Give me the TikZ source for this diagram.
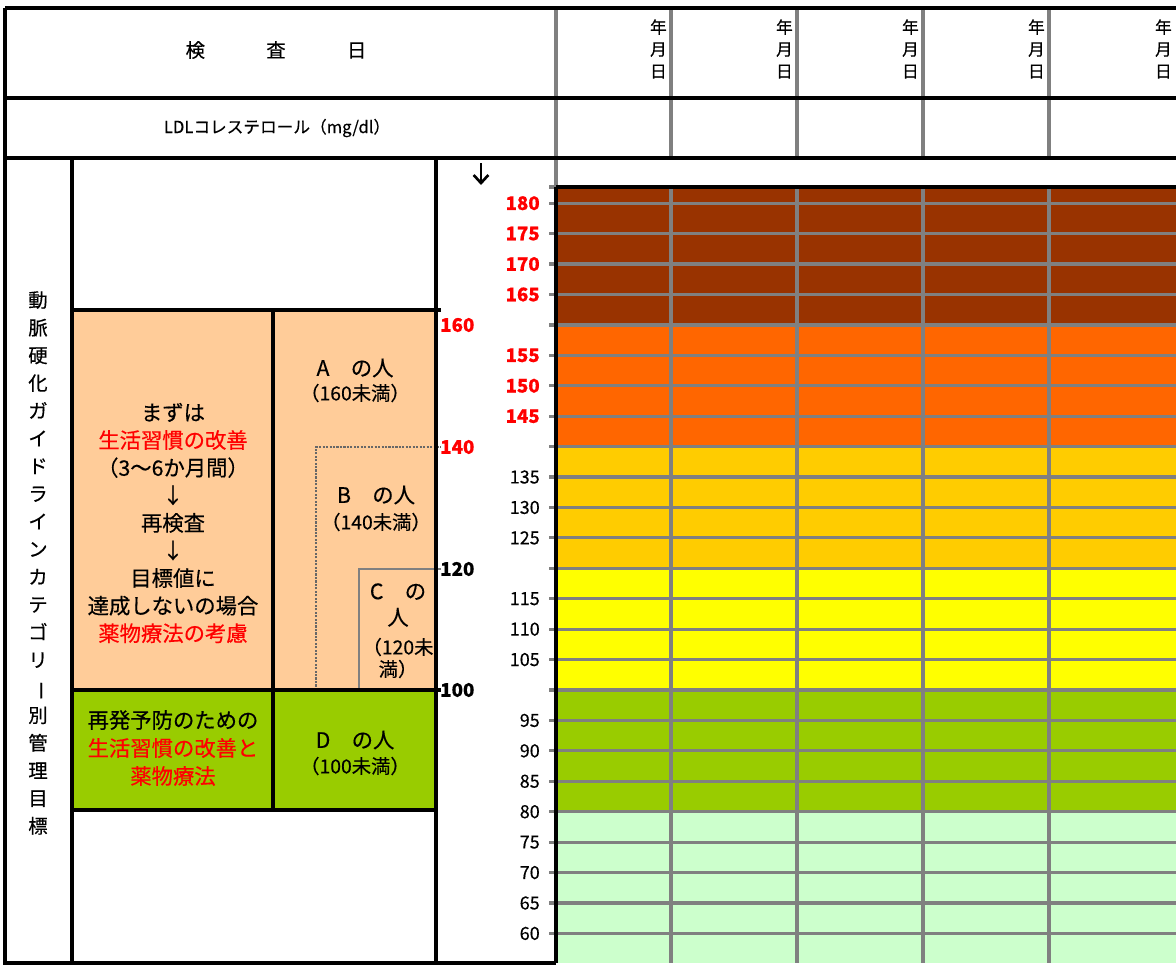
\documentclass[tikz,border=0pt]{standalone}
\usepackage{fontspec}
\setmainfont{Noto Sans CJK JP}[FakeBold=0.4]
\usetikzlibrary{arrows.meta}
\definecolor{cBrown}{HTML}{993300}
\definecolor{cOrange}{HTML}{FF6600}
\definecolor{cAmber}{HTML}{FFCC00}
\definecolor{cYellow}{HTML}{FFFF00}
\definecolor{cGreen}{HTML}{99CC00}
\definecolor{cMint}{HTML}{CCFFCC}
\definecolor{cPeach}{HTML}{FFCC99}
\definecolor{cGray}{HTML}{808080}
\tikzset{
    frameline/.style={line width=2.4pt},
    gridline/.style={draw=cGray,line width=2.4pt},
    body/.style={align=center,inner sep=0pt,font=\fontsize{16}{20.7}\selectfont},
    subline/.style={align=center,inner sep=0pt,font=\fontsize{14.5}{16.5}\selectfont},
    hotnum/.style={inner sep=0pt,text=red,font=\bfseries\fontsize{14}{15}\selectfont},
    boldnum/.style={inner sep=0pt,font=\bfseries\fontsize{14}{15}\selectfont},
    plainnum/.style={inner sep=0pt,font=\fontsize{13.5}{15}\selectfont},
    datecell/.style={align=right,inner sep=0pt,font=\fontsize{12.5}{16.5}\selectfont},
    vlabel/.style={align=center,inner sep=0pt,font=\fontsize{14.5}{20.76}\selectfont},
}
\begin{document}
\begin{tikzpicture}[x=0.75pt,y=-0.75pt]
            \useasboundingbox (0,0) rectangle (1176,967);
            \foreach \ya/\yb/\c in {187/325/cBrown,325/447/cOrange,447/569/cAmber,569/690/cYellow,690/812/cGreen,812/963/cMint}
                \fill[\c] (556,\ya) rectangle (1176,\yb);
            \fill[cPeach] (72,310) rectangle (436,690);
            \fill[cGreen] (72,690) rectangle (436,810);
            \foreach \v in {60,65,...,180}
                \draw[gridline] (549,{690-(\v-100)*6.085}) -- (1176,{690-(\v-100)*6.085});
            \draw[gridline] (549,187) -- (556,187);
            \foreach \x in {671,797,923,1049} {
                \draw[gridline] (\x,8) -- (\x,158);
                \draw[gridline] (\x,187) -- (\x,963);
            }
            \draw[gridline] (556,8) -- (556,187);
            \draw[cGray!80!black,line width=1.6pt,densely dotted] (316,690) -- (316,447) -- (441,447);
            \draw[cGray,line width=2.2pt] (359,690) -- (359,569) -- (441,569);
            % table frame
            \draw[frameline] (5,8) -- (1176,8);
            \draw[frameline] (5,98) -- (1176,98);
            \draw[frameline] (5,158) -- (1176,158);
            \draw[frameline] (5,8) -- (5,963) -- (556,963);
            \draw[frameline] (556,187) -- (1176,187);
            \draw[frameline] (556,187) -- (556,963);
            \draw[frameline] (72,158) -- (72,963);
            \draw[frameline] (436,158) -- (436,963);
            \draw[frameline] (72,310) -- (441,310);
            \draw[frameline] (72,690) -- (441,690);
            \draw[frameline] (72,810) -- (436,810);
            \draw[frameline] (273,310) -- (273,810);

            \draw (276,50) node[font=\fontsize{14.5}{15}\selectfont](day){検\hspace{46pt}査\hspace{46pt}日};
            \draw (277,128) node[font=\fontsize{12.5}{14}\selectfont](ldl){LDLコレステロール（mg/dl）};
            \foreach \x in {671,797,923,1049,1176}
                \draw (\x-4,49) node[datecell,anchor=east](d\x){年\\月\\日};
            \draw (38,563) node[vlabel](cat){動\\脈\\硬\\化\\ガ\\イ\\ド\\ラ\\イ\\ン\\カ\\テ\\ゴ\\リ\\\rotatebox[origin=c]{-90}{ー}\\別\\管\\理\\目\\標};

            \draw (173,523) node[body](first){まずは\\\textcolor{red}{生活習慣の改善}\\（3〜6か月間）\\↓\\再検査\\↓\\目標値に\\達成しないの場合\\\textcolor{red}{薬物療法の考慮}};
            \draw (173,748) node[body,font=\fontsize{16}{21}\selectfont](relapse){再発予防のための\\\textcolor{red}{生活習慣の改善と}\\\textcolor{red}{薬物療法}};
            \draw (355,368) node[body](pa){A　の人};
            \draw (355,393) node[subline](pasub){（160未満）};
            \draw (376,495) node[body](pb){B　の人};
            \draw (376,522) node[subline](pbsub){（140未満）};
            \draw (398,605) node[body,font=\fontsize{16}{19.5}\selectfont](pc){C　の\\人};
            \draw (398,658) node[subline](pcsub){（120未\\満）};
            \draw (355,740) node[body](pd){D　の人};
            \draw (355,766) node[subline](pdsub){（100未満）};

            \coordinate (arrtop) at (481,163);
            \coordinate (arrtip) at (481,185);
            \draw[line width=2pt,-{Straight Barb[length=6pt,width=11pt]}] (arrtop) -- (arrtip);

            \draw (440,325) node[hotnum,anchor=west](l160){160};
            \draw (440,447) node[hotnum,anchor=west](l140){140};
            \draw (440,569) node[boldnum,anchor=west](l120){120};
            \draw (440,690) node[boldnum,anchor=west](l100){100};
            \foreach \v in {180,175,170,165,155,150,145}
                \draw (540,{690-(\v-100)*6.085}) node[hotnum,anchor=east](n\v){\v};
            \foreach \v in {135,130,125,115,110,105,95,90,85,80,75,70,65,60}
                \draw (540,{690-(\v-100)*6.085}) node[plainnum,anchor=east](n\v){\v};
        \end{tikzpicture}
\end{document}
